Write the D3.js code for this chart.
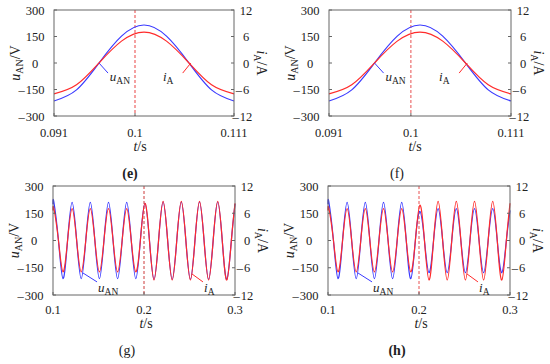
<!DOCTYPE html>
<html>
<head>
<meta charset="utf-8">
<script src="https://cdn.jsdelivr.net/npm/d3@7"></script>
<style>
  body { margin: 0; background: #fff; }
  svg { display: block; }
  text { font-family: "Liberation Serif", "Times New Roman", Times, serif; fill: #222; }
</style>
</head>
<body>
<svg id="chart" width="550" height="364"></svg>
<script>
"use strict";

// ---- data ----
// (e), (f): one period around the step at t = 0.1 s, sampled every 1/8 period
let tShort = [0.091, 0.0935, 0.096, 0.0985, 0.101, 0.1035, 0.106, 0.1085, 0.111];
let uShort = [-215, -152, 0, 152, 215, 152, 0, -152, -215];   // V
let iShort = [-7, -4.95, 0, 4.95, 7, 4.95, 0, -4.95, -7];      // A

// (g), (h): 0.1 .. 0.3 s, sampled at peaks and zero crossings
let tLong = [0.1, 0.101, 0.106, 0.111, 0.116, 0.121, 0.126, 0.131, 0.136, 0.141, 0.146,
  0.151, 0.156, 0.161, 0.166, 0.171, 0.176, 0.181, 0.186, 0.191, 0.196,
  0.201, 0.206, 0.211, 0.216, 0.221, 0.226, 0.231, 0.236, 0.241, 0.246,
  0.251, 0.256, 0.261, 0.266, 0.271, 0.276, 0.281, 0.286, 0.291, 0.296, 0.3];
let uG = [200, 210, 0, -210, 0, 210, 0, -210, 0, 210, 0, -210, 0, 210, 0, -210, 0, 210, 0, -210, 0,
  205, 0, -214, 0, 212, 0, -214, 0, 212, 0, -214, 0, 212, 0, -214, 0, 212, 0, -214, 0, 201];
let iG = [6.6, 7, 0, -6.9, 0, 7, 0, -6.9, 0, 7, 0, -6.9, 0, 7, 0, -6.9, 0, 7, 0, -6.9, 0,
  8.2, 0, -8.7, 0, 8.6, 0, -8.7, 0, 8.6, 0, -8.7, 0, 8.6, 0, -8.7, 0, 8.6, 0, -8.7, 0, 8.2];
let uH = [200, 210, 0, -210, 0, 210, 0, -210, 0, 210, 0, -210, 0, 210, 0, -210, 0, 210, 0, -210, 0,
  160, 0, -177, 0, 175, 0, -177, 0, 175, 0, -177, 0, 175, 0, -177, 0, 175, 0, -177, 0, 166];
let iH = [6.6, 7, 0, -6.9, 0, 7, 0, -6.9, 0, 7, 0, -6.9, 0, 7, 0, -6.9, 0, 7, 0, -6.9, 0,
  7.8, 0, -8.7, 0, 8.6, 0, -8.7, 0, 8.6, 0, -8.7, 0, 8.6, 0, -8.7, 0, 8.6, 0, -8.7, 0, 8.2];

let uTicks = [-300, -150, 0, 150, 300];
let iTicks = [-12, -6, 0, 6, 12];
let xTicksShort = [0.091, 0.1, 0.111];
let xTicksLong = [0.1, 0.2, 0.3];

// annotation anchors in data units: [tip t, tip u, tail t, tail u, text t, text u]
let noteShortU = [0.096, 0, 0.097, -57, 0.0972, -104];
let noteShortI = [0.1062, 0, 0.1053, -57, 0.1031, -104];
let noteLongU = [0.133, -179, 0.1484, -228, 0.1495, -285];
let noteLongI = [0.2527, -184, 0.2648, -228, 0.266, -285];

const BLUE = "#3a3aff", RED = "#ff2b2b";

let svg = d3.select("#chart");

let panels = [
  { box: [54, 234, 10, 116], t: tShort, u: uShort, i: iShort, xDomain: [0.091, 0.111], xTicks: xTicksShort,
    stepT: 0.1, dash: { color: "#f28a8a", width: 1.6 },
    noteU: noteShortU, noteI: noteShortI, caption: "(e)", bold: true, capX: 130, titleX: 140 },
  { box: [329, 511, 10, 116], t: tShort, u: uShort, i: iShort, xDomain: [0.091, 0.111], xTicks: xTicksShort,
    stepT: 0.1, dash: { color: "#e85050", width: 1 },
    noteU: noteShortU, noteI: noteShortI, caption: "(f)", bold: false, capX: 397, titleX: 415 },
  { box: [53, 235, 186, 295], t: tLong, u: uG, i: iG, xDomain: [0.1, 0.3], xTicks: xTicksLong,
    stepT: 0.2, dash: { color: "#cc3a3a", width: 1 },
    noteU: noteLongU, noteI: noteLongI, caption: "(g)", bold: false, capX: 127, titleX: 146 },
  { box: [328, 510, 186, 295], t: tLong, u: uH, i: iH, xDomain: [0.1, 0.3], xTicks: xTicksLong,
    stepT: 0.2, dash: { color: "#e85050", width: 1 },
    noteU: noteLongU, noteI: noteLongI, caption: "(h)", bold: true, capX: 397, titleX: 421 }
];

panels.forEach(drawPanel);

function drawPanel(p) {
  let [x0, x1, y0, y1] = p.box;
  let g = svg.append("g");

  let x = d3.scaleLinear().domain(p.xDomain).range([x0, x1]);
  let yU = d3.scaleLinear().domain([-300, 300]).range([y1, y0]);
  let yI = d3.scaleLinear().domain([-12, 12]).range([y1, y0]);

  // dashed marker of the step instant
  g.append("line")
    .attr("x1", x(p.stepT)).attr("x2", x(p.stepT))
    .attr("y1", y0).attr("y2", y1)
    .attr("stroke", p.dash.color)
    .attr("stroke-width", p.dash.width)
    .attr("stroke-dasharray", "3,2");

  // curves
  let lineU = d3.line().x(d => x(d[0])).y(d => yU(d[1])).curve(d3.curveNatural);
  let lineI = d3.line().x(d => x(d[0])).y(d => yI(d[1])).curve(d3.curveNatural);

  g.append("path")
    .datum(d3.zip(p.t, p.u))
    .attr("d", lineU)
    .attr("fill", "none")
    .attr("stroke", BLUE)
    .attr("stroke-width", 1.2);

  g.append("path")
    .datum(d3.zip(p.t, p.i))
    .attr("d", lineI)
    .attr("fill", "none")
    .attr("stroke", RED)
    .attr("stroke-width", 1.2);

  // frame
  g.append("rect")
    .attr("x", x0).attr("y", y0)
    .attr("width", x1 - x0).attr("height", y1 - y0)
    .attr("fill", "none")
    .attr("stroke", "#666")
    .attr("stroke-width", 1);

  // inward ticks
  g.selectAll(".tickL").data(uTicks).enter().append("line")
    .attr("x1", x0).attr("x2", x0 + 3)
    .attr("y1", d => yU(d)).attr("y2", d => yU(d))
    .attr("stroke", "#666");
  g.selectAll(".tickR").data(iTicks).enter().append("line")
    .attr("x1", x1).attr("x2", x1 - 3)
    .attr("y1", d => yI(d)).attr("y2", d => yI(d))
    .attr("stroke", "#666");
  g.selectAll(".tickB").data(p.xTicks).enter().append("line")
    .attr("x1", d => x(d)).attr("x2", d => x(d))
    .attr("y1", y1).attr("y2", y1 - 3)
    .attr("stroke", "#666");

  // tick labels: digits centred, minus sign hanging to the left
  uTicks.forEach(v => numLabel(g, x0 - 19, yU(v) + 4.5, v));
  iTicks.forEach(v => numLabel(g, x1 + 12, yI(v) + 4.5, v));

  let xLabY = y1 + (y1 - y0 > 107 ? 19 : 21);
  g.selectAll(".xLab").data(p.xTicks).enter().append("text")
    .attr("x", d => x(d))
    .attr("y", xLabY)
    .attr("text-anchor", "middle")
    .style("font-size", "12.5px")
    .text(d => String(d));

  // axis titles
  let midY = (y0 + y1) / 2;
  let left = g.append("text")
    .attr("transform", `translate(${x0 - 34},${midY}) rotate(-90)`)
    .attr("text-anchor", "middle")
    .style("font-size", "14px");
  left.append("tspan").style("font-style", "italic").text("u");
  left.append("tspan").attr("dy", 3).style("font-size", "10px").text("AN");
  left.append("tspan").attr("dy", -3).text("/V");

  let right = g.append("text")
    .attr("transform", `translate(${x1 + 23},${midY}) rotate(90)`)
    .attr("text-anchor", "middle")
    .style("font-size", "14px");
  right.append("tspan").style("font-style", "italic").text("i");
  right.append("tspan").attr("dy", 3).style("font-size", "10px").text("A");
  right.append("tspan").attr("dy", -3).text("/A");

  let tt = g.append("text")
    .attr("x", p.titleX)
    .attr("y", xLabY + 14)
    .attr("text-anchor", "middle")
    .style("font-size", "14px");
  tt.append("tspan").style("font-style", "italic").text("t");
  tt.append("tspan").text("/s");

  g.append("text")
    .attr("x", p.capX)
    .attr("y", xLabY + 41)
    .attr("text-anchor", "middle")
    .style("font-size", "14px")
    .style("font-weight", p.bold ? "bold" : "normal")
    .text(p.caption);

  // arrows pointing at the curves
  note(g, x, yU, p.noteU, BLUE, "u", "AN");
  note(g, x, yU, p.noteI, RED, "i", "A");
}

function numLabel(g, cx, y, v) {
  let txt = g.append("text")
    .attr("x", cx).attr("y", y)
    .attr("text-anchor", "middle")
    .style("font-size", "12.5px")
    .text(Math.abs(v));
  if (v < 0) {
    let w = txt.node().getBBox().width;
    g.append("text")
      .attr("x", cx - w / 2 - 1).attr("y", y)
      .attr("text-anchor", "end")
      .style("font-size", "12.5px")
      .text("\u2013");
  }
}

function note(g, x, y, n, color, sym, sub) {
  g.append("line")
    .attr("x1", x(n[2])).attr("y1", y(n[3]))
    .attr("x2", x(n[0])).attr("y2", y(n[1]))
    .attr("stroke", color)
    .attr("stroke-width", 1);
  let t = g.append("text")
    .attr("x", x(n[4])).attr("y", y(n[5]))
    .style("font-size", "13px");
  t.append("tspan").style("font-style", "italic").text(sym);
  t.append("tspan").attr("dy", 3).style("font-size", "9.5px").text(sub);
}
</script>
</body>
</html>
